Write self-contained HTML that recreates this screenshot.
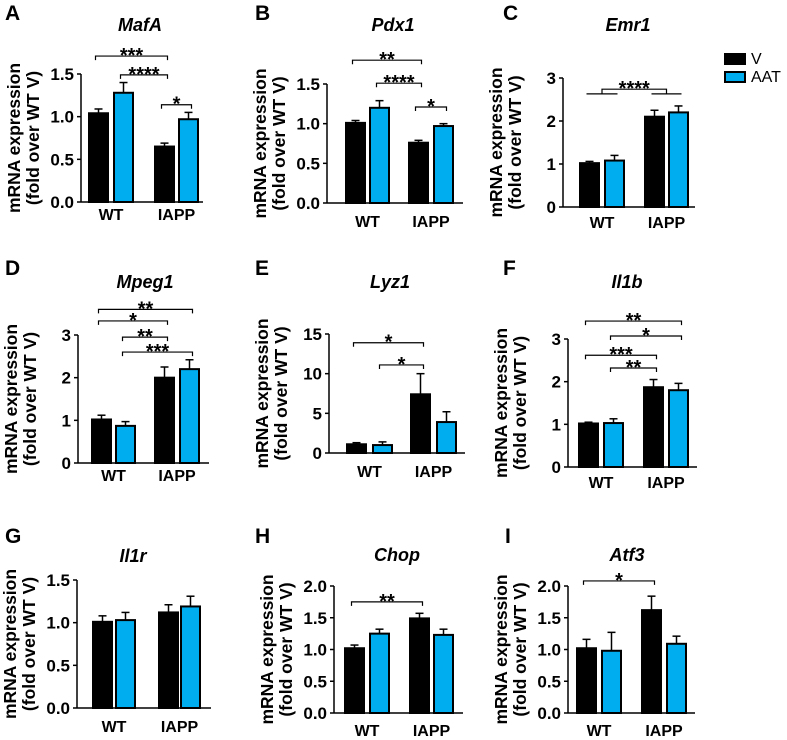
<!DOCTYPE html>
<html><head><meta charset="utf-8">
<style>
html,body{margin:0;padding:0;background:#fff;}
svg{display:block;font-family:"Liberation Sans",Arial,sans-serif;}
</style></head>
<body>
<svg id="fig" width="787" height="740" viewBox="0 0 787 740" xmlns="http://www.w3.org/2000/svg">
<g>
<rect x="725" y="54" width="20" height="10" fill="#000" stroke="#000" stroke-width="2"/>
<text x="751" y="64" font-size="16">V</text>
<rect x="725" y="72" width="20" height="10" fill="#00aeef" stroke="#000" stroke-width="2"/>
<text x="751" y="82" font-size="16">AAT</text>
</g>
</svg>
<script>
const genes = ["MafA","Pdx1","Emr1","Mpeg1","Lyz1","Il1b","Il1r","Chop","Atf3"];
const letters = ["A","B","C","D","E","F","G","H","I"];
const yMaxVals = [1.5,1.5,3,3,15,3,1.5,2,2];
const tickLabels = [
 ["0.0","0.5","1.0","1.5"],["0.0","0.5","1.0","1.5"],["0","1","2","3"],
 ["0","1","2","3"],["0","5","10","15"],["0","1","2","3"],
 ["0.0","0.5","1.0","1.5"],["0.0","0.5","1.0","1.5","2.0"],["0.0","0.5","1.0","1.5","2.0"]];
const tickValues = [
 [0,0.5,1,1.5],[0,0.5,1,1.5],[0,1,2,3],[0,1,2,3],[0,5,10,15],[0,1,2,3],
 [0,0.5,1,1.5],[0,0.5,1,1.5,2],[0,0.5,1,1.5,2]];
const groups = ["WT","IAPP"];
// bar order: WT-V, WT-AAT, IAPP-V, IAPP-AAT
const meanVals = [
 [1.04,1.28,0.65,0.97],[1.01,1.20,0.76,0.97],[1.02,1.08,2.10,2.20],
 [1.02,0.87,2.00,2.20],[1.10,1.00,7.40,3.90],[1.02,1.03,1.87,1.80],
 [1.01,1.03,1.12,1.19],[1.02,1.25,1.49,1.23],[1.02,0.98,1.62,1.09]];
const errVals = [
 [0.05,0.12,0.04,0.08],[0.03,0.09,0.03,0.03],[0.04,0.12,0.15,0.15],
 [0.10,0.10,0.25,0.22],[0.20,0.40,2.60,1.30],[0.03,0.10,0.18,0.16],
 [0.07,0.09,0.09,0.12],[0.05,0.07,0.08,0.09],[0.14,0.29,0.22,0.12]];
// significance: [fromBar, toBar, level (data units), stars]
const sigBrackets = [
 [[0,2,1.71,"***"],[1,2,1.49,"****"],[2,3,1.14,"*"]],
 [[0,2,1.80,"**"],[1,2,1.51,"****"],[2,3,1.21,"*"]],
 [],
 [[0,3,3.60,"**"],[0,2,3.33,"*"],[1,2,2.95,"**"],[1,3,2.60,"***"]],
 [[0,2,13.9,"*"],[1,2,11.1,"*"]],
 [[0,3,3.42,"**"],[1,3,3.07,"*"],[0,2,2.62,"***"],[1,2,2.32,"**"]],
 [],
 [[0,2,1.75,"**"]],
 [[0,2,2.08,"*"]]];
// group-vs-group bracket (Emr1): [panel, level, subLevel, stars]
const groupBrackets = [[2,2.74,2.63,"****"]];

// layout (pixels) – not data
const layout = [
 {ax:81,y0:202,yt:74,xe:203,bars:[89,114,155,179],lab:140,lx:5,ly:20,ty:31,xl:18},
 {ax:327,y0:203,yt:84,xe:463,bars:[346,370,409,434],lab:393,lx:255,ly:20,ty:31,xl:24},
 {ax:563,y0:207,yt:78,xe:695,bars:[580,605,645,669],lab:628,lx:503,ly:20,ty:31,xl:21},
 {ax:78,y0:463,yt:335,xe:209,bars:[92,116,155,180],lab:145,lx:5,ly:275,ty:288,xl:18},
 {ax:329,y0:453,yt:334,xe:465,bars:[347,373,411,437],lab:390,lx:255,ly:275,ty:288,xl:24},
 {ax:568,y0:467,yt:339,xe:697,bars:[579,604,644,669],lab:627,lx:503,ly:275,ty:288,xl:21},
 {ax:77,y0:708,yt:580,xe:211,bars:[93,116,159,181],lab:133,lx:5,ly:543,ty:562,xl:24},
 {ax:334,y0:713,yt:586,xe:463,bars:[345,370,410,434],lab:397,lx:255,ly:543,ty:561,xl:23},
 {ax:568,y0:713,yt:586,xe:695,bars:[577,602,642,667],lab:627,lx:505,ly:543,ty:561,xl:23}];
const BW = 19;
const NS = "http://www.w3.org/2000/svg";
const svg = document.getElementById("fig");
function mk(tag, attrs, parent, txt){
  const e = document.createElementNS(NS, tag);
  for (const k in attrs) e.setAttribute(k, attrs[k]);
  if (txt !== undefined) e.textContent = txt;
  parent.appendChild(e); return e;
}
genes.forEach((g, p) => {
  const L = layout[p];
  const ys = v => L.y0 - (v / yMaxVals[p]) * (L.y0 - L.yt);
  const cx = i => L.bars[i] + BW/2;
  const grp = mk("g", {}, svg);
  
  
  const lt = mk("text", {x:L.lx, y:L.ly, "font-size":21, "font-weight":"bold"}, grp, letters[p]);
  
  
  const tt = mk("text", {x:L.lab, y:L.ty, "font-size":18, "font-weight":"bold", "font-style":"italic", "text-anchor":"middle"}, grp, g);
  
  
  const ymid = (L.y0 + L.yt)/2;
  const yl = mk("text", {transform:`translate(${L.ax-61},${ymid}) rotate(-90)`, "font-size":17.5, "font-weight":"bold", "text-anchor":"middle"}, grp);
  
  
  mk("tspan", {x:0, y:0}, yl, "mRNA expression");
  mk("tspan", {x:0, y:19}, yl, "(fold over WT V)");
  // bars
  meanVals[p].forEach((v, i) => {
    const top = ys(v), et = ys(v + errVals[p][i]);
    const eb = mk("line", {x1:cx(i), x2:cx(i), y1:top, y2:et, stroke:"#000", "stroke-width":1.5}, grp);
    
    
    const cap = mk("line", {x1:cx(i)-4, x2:cx(i)+4, y1:et, y2:et, stroke:"#000", "stroke-width":1.5}, grp);
    
    
    const r = mk("rect", {x:L.bars[i], y:top, width:BW, height:L.y0 - top, fill: i%2 ? "#00aeef" : "#000", stroke:"#000", "stroke-width":2}, grp);
    
    
  });
  // axes
  const ya = mk("line", {x1:L.ax, x2:L.ax, y1:L.yt, y2:L.y0, stroke:"#000", "stroke-width":1.5}, grp);
  
  
  const xa = mk("line", {x1:L.ax, x2:L.xe, y1:L.y0, y2:L.y0, stroke:"#000", "stroke-width":1.5}, grp);
  
  
  tickValues[p].forEach((t, k) => {
    const y = ys(t);
    const tk = mk("line", {x1:L.ax-4, x2:L.ax, y1:y, y2:y, stroke:"#000", "stroke-width":1.5}, grp);
    
    
    const tl = mk("text", {x:L.ax-7, y:y+6, "font-size":17, "font-weight":"bold", "text-anchor":"end"}, grp, tickLabels[p][k]);
    
    
  });
  groups.forEach((gn, k) => {
    const x = (cx(2*k) + cx(2*k+1))/2;
    const xt = mk("text", {x:x, y:L.y0 + L.xl, "font-size":16, "font-weight":"bold", "text-anchor":"middle"}, grp, gn);
    
    
  });
  // significance brackets
  sigBrackets[p].forEach(b => {
    const y = ys(b[2]);
    const x1 = cx(b[0]) - 3, x2 = cx(b[1]) + 3;
    const pl = mk("polyline", {points:`${x1},${y+4} ${x1},${y} ${x2},${y} ${x2},${y+4}`, fill:"none", stroke:"#000", "stroke-width":1.2}, grp);
    
    
    const st = mk("text", {x:(x1+x2)/2, y:y+6, "font-size":20, "font-weight":"bold", "text-anchor":"middle"}, grp, b[3]);
    
    
  });
  groupBrackets.filter(b => b[0] === p).forEach(b => {
    const y = ys(b[1]), ys2 = ys(b[2]);
    const ga = (cx(0)+cx(1))/2, gb = (cx(2)+cx(3))/2;
    const pl = mk("polyline", {points:`${ga},${ys2} ${ga},${y} ${gb},${y} ${gb},${ys2}`, fill:"none", stroke:"#000", "stroke-width":1.2}, grp);
    
    
    [[cx(0)-3,cx(1)+3],[cx(2)-3,cx(3)+3]].forEach(s => {
      const sl = mk("line", {x1:s[0], x2:s[1], y1:ys2, y2:ys2, stroke:"#000", "stroke-width":1.2}, grp);
      
      
    });
    const st = mk("text", {x:(ga+gb)/2, y:y+6, "font-size":20, "font-weight":"bold", "text-anchor":"middle"}, grp, b[3]);
    
    
  });
});
</script>
</body></html>
